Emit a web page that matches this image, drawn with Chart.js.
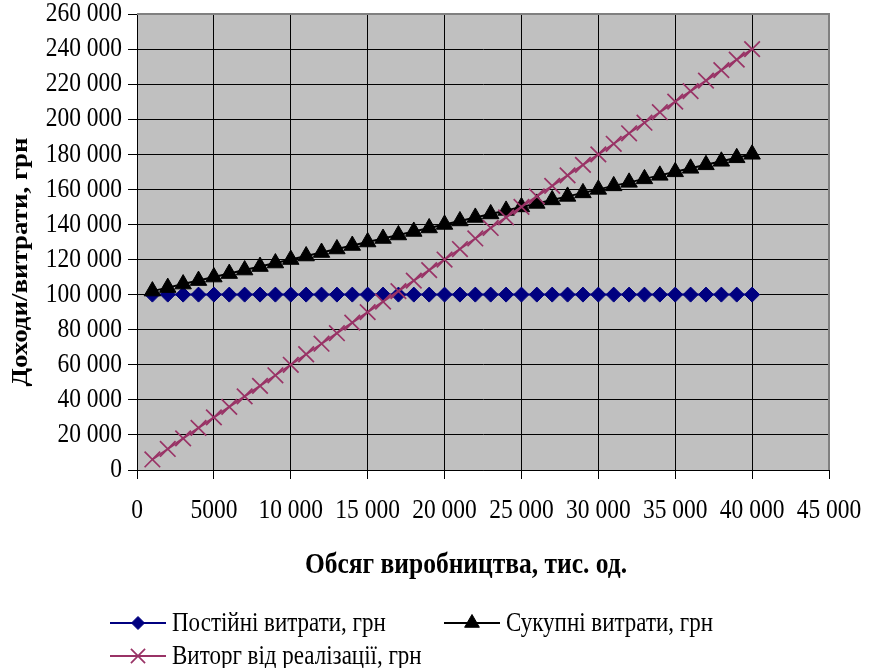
<!DOCTYPE html>
<html>
<head>
<meta charset="utf-8">
<script src="https://cdn.jsdelivr.net/npm/chart.js@4.4.1/dist/chart.umd.min.js"></script>
<style>
  html, body { margin: 0; padding: 0; background: #fff; }
  #wrap { position: relative; width: 878px; height: 668px; }
</style>
</head>
<body>
<div id="wrap"><canvas id="chart"></canvas></div>
<script>
// обсяг виробництва, тис. од.
const volume = [1000, 2000, 3000, 4000, 5000, 6000, 7000, 8000, 9000, 10000,
  11000, 12000, 13000, 14000, 15000, 16000, 17000, 18000, 19000, 20000,
  21000, 22000, 23000, 24000, 25000, 26000, 27000, 28000, 29000, 30000,
  31000, 32000, 33000, 34000, 35000, 36000, 37000, 38000, 39000, 40000];

const fixedCosts = [100000, 100000, 100000, 100000, 100000, 100000, 100000, 100000, 100000, 100000,
  100000, 100000, 100000, 100000, 100000, 100000, 100000, 100000, 100000, 100000,
  100000, 100000, 100000, 100000, 100000, 100000, 100000, 100000, 100000, 100000,
  100000, 100000, 100000, 100000, 100000, 100000, 100000, 100000, 100000, 100000];

const totalCosts = [102000, 104000, 106000, 108000, 110000, 112000, 114000, 116000, 118000, 120000,
  122000, 124000, 126000, 128000, 130000, 132000, 134000, 136000, 138000, 140000,
  142000, 144000, 146000, 148000, 150000, 152000, 154000, 156000, 158000, 160000,
  162000, 164000, 166000, 168000, 170000, 172000, 174000, 176000, 178000, 180000];

const revenue = [6000, 12000, 18000, 24000, 30000, 36000, 42000, 48000, 54000, 60000,
  66000, 72000, 78000, 84000, 90000, 96000, 102000, 108000, 114000, 120000,
  126000, 132000, 138000, 144000, 150000, 156000, 162000, 168000, 174000, 180000,
  186000, 192000, 198000, 204000, 210000, 216000, 222000, 228000, 234000, 240000];

const seriesNames = ["Постійні витрати, грн", "Сукупні витрати, грн", "Виторг від реалізації, грн"];
const xTitle = "Обсяг виробництва, тис. од.";
const yTitle = "Доходи/витрати, грн";

const xTickValues = [0, 5000, 10000, 15000, 20000, 25000, 30000, 35000, 40000, 45000];
const xTickLabels = ["0", "5000", "10 000", "15 000", "20 000", "25 000", "30 000", "35 000", "40 000", "45 000"];
const yTickValues = [0, 20000, 40000, 60000, 80000, 100000, 120000, 140000, 160000, 180000, 200000, 220000, 240000, 260000];
const yTickLabels = ["0", "20 000", "40 000", "60 000", "80 000", "100 000", "120 000", "140 000", "160 000", "180 000", "200 000", "220 000", "240 000", "260 000"];

const FONT = "'Liberation Serif', 'Times New Roman', serif";
// the original picture is a bit taller than wide, text looks stretched
const STRETCH = 1.17;

function pts(ys) {
  return volume.map((v, i) => ({ x: v, y: ys[i] }));
}

function drawText(ctx, text, x, y, font, align, rotate) {
  ctx.save();
  ctx.translate(x, y);
  if (rotate) {
    ctx.rotate(-Math.PI / 2);
    ctx.scale(STRETCH, 1);
  } else {
    ctx.scale(1, STRETCH);
  }
  ctx.font = font;
  ctx.fillStyle = "#000";
  ctx.textAlign = align;
  ctx.textBaseline = "middle";
  ctx.fillText(text, 0, 0);
  ctx.restore();
}

const plotBox = {
  id: "plotBox",
  beforeDraw(chart) {
    const a = chart.chartArea;
    const ctx = chart.ctx;
    ctx.save();
    ctx.fillStyle = "#c0c0c0";
    ctx.fillRect(a.left, a.top, a.right - a.left, a.bottom - a.top);
    ctx.restore();
  },
  beforeDatasetsDraw(chart) {
    const a = chart.chartArea;
    const ctx = chart.ctx;
    ctx.save();
    ctx.strokeStyle = "#808080";
    ctx.lineWidth = 2;
    ctx.beginPath();
    ctx.moveTo(a.left, a.top);
    ctx.lineTo(a.right, a.top);
    ctx.lineTo(a.right, a.bottom);
    ctx.stroke();
    ctx.restore();
  }
};

// tick labels and titles, drawn at the scale positions
const textLayer = {
  id: "textLayer",
  afterDraw(chart) {
    const ctx = chart.ctx;
    const xs = chart.scales.x;
    const ys = chart.scales.y;
    const tickFont = "23.5px " + FONT;
    ys.ticks.forEach(t => {
      drawText(ctx, yTickLabels[yTickValues.indexOf(t.value)], 122, ys.getPixelForValue(t.value), tickFont, "right", false);
    });
    xs.ticks.forEach(t => {
      drawText(ctx, xTickLabels[xTickValues.indexOf(t.value)], xs.getPixelForValue(t.value), 511, tickFont, "center", false);
    });
    drawText(ctx, xTitle, 466, 565, "bold 25.5px " + FONT, "center", false);
    drawText(ctx, yTitle, 21, 262, "bold 23px " + FONT, "center", true);
  }
};

// legend drawn by hand, left aligned like the original
const legendItems = [
  { ds: 0, x: 110, y: 623 },
  { ds: 1, x: 444, y: 623 },
  { ds: 2, x: 110, y: 656 }
];

const bottomLegend = {
  id: "bottomLegend",
  afterDraw(chart) {
    const ctx = chart.ctx;
    legendItems.forEach(it => {
      const ds = chart.data.datasets[it.ds];
      ctx.save();
      ctx.strokeStyle = ds.borderColor;
      ctx.lineWidth = 2;
      ctx.beginPath();
      ctx.moveTo(it.x, it.y);
      ctx.lineTo(it.x + 56, it.y);
      ctx.stroke();
      ctx.fillStyle = ds.pointBackgroundColor;
      ctx.strokeStyle = ds.pointBorderColor;
      ctx.lineWidth = ds.pointBorderWidth;
      Chart.helpers.drawPoint(ctx, {
        pointStyle: ds.pointStyle,
        radius: ds.pointRadius - 1,
        borderWidth: ds.pointBorderWidth,
        rotation: 0
      }, it.x + 28, it.y);
      ctx.restore();
      drawText(ctx, seriesNames[it.ds], it.x + 62, it.y + 1, "23px " + FONT, "left", false);
    });
  }
};

new Chart(document.getElementById("chart"), {
  type: "line",
  data: {
    datasets: [
      {
        label: seriesNames[0],
        data: pts(fixedCosts),
        borderColor: "#000080",
        borderWidth: 2,
        pointStyle: "rectRot",
        pointRadius: 7.5,
        pointBackgroundColor: "#000080",
        pointBorderColor: "#000080",
        pointBorderWidth: 1,
        order: 3
      },
      {
        label: seriesNames[1],
        data: pts(totalCosts),
        borderColor: "#000000",
        borderWidth: 2,
        pointStyle: "triangle",
        pointRadius: 9.5,
        pointBackgroundColor: "#000000",
        pointBorderColor: "#000000",
        pointBorderWidth: 1,
        order: 2
      },
      {
        label: seriesNames[2],
        data: pts(revenue),
        borderColor: "#993366",
        borderWidth: 2,
        pointStyle: "crossRot",
        pointRadius: 11,
        pointBackgroundColor: "#993366",
        pointBorderColor: "#993366",
        pointBorderWidth: 1.7,
        order: 1
      }
    ]
  },
  options: {
    responsive: true,
    maintainAspectRatio: false,
    animation: false,
    layout: { padding: { top: 14, right: 49, left: 0, bottom: 0 } },
    plugins: {
      legend: { display: false },
      tooltip: { enabled: false }
    },
    scales: {
      x: {
        type: "linear",
        min: 0,
        max: 45000,
        afterBuildTicks: s => { s.ticks = xTickValues.map(v => ({ value: v })); },
        afterFit: s => { s.height = 198; },
        ticks: {
          autoSkip: false,
          maxRotation: 0,
          color: "rgba(0,0,0,0)",
          font: { size: 4 }
        },
        grid: { color: "#000", lineWidth: 1, tickLength: 9, tickColor: "#000" },
        border: { color: "#000", width: 1 }
      },
      y: {
        min: 0,
        max: 260000,
        afterBuildTicks: s => { s.ticks = yTickValues.map(v => ({ value: v })); },
        afterFit: s => { s.width = 137; },
        ticks: {
          autoSkip: false,
          color: "rgba(0,0,0,0)",
          font: { size: 4 }
        },
        grid: { color: "#000", lineWidth: 1, tickLength: 9, tickColor: "#000" },
        border: { color: "#000", width: 1 }
      }
    }
  },
  plugins: [plotBox, textLayer, bottomLegend]
});
</script>
</body>
</html>
